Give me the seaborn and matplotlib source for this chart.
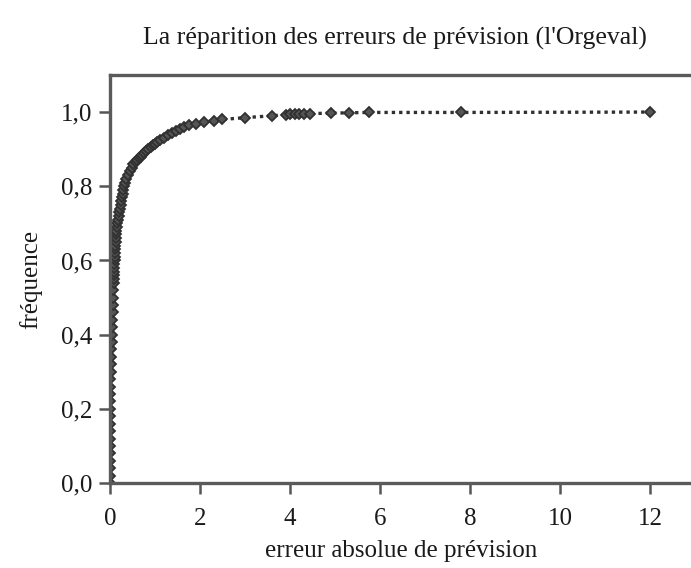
import matplotlib
matplotlib.use("Agg")
import matplotlib.pyplot as plt
import seaborn as sns
import pandas as pd

erreur = [0.00, 0.00, 0.00, 0.00, 0.00, 0.00, 0.00, 0.00, 0.00, 0.00, 0.00, 0.00, 0.00, 0.00,
          0.01, 0.02, 0.02, 0.03, 0.03, 0.04, 0.04, 0.05, 0.05, 0.06, 0.06, 0.07, 0.07, 0.08,
          0.08, 0.085, 0.09, 0.09, 0.095, 0.10, 0.105, 0.11, 0.115, 0.12, 0.125, 0.13, 0.135, 0.14,
          0.15, 0.16, 0.175, 0.19, 0.205, 0.22, 0.235, 0.25, 0.265, 0.28, 0.295, 0.31, 0.335, 0.36,
          0.40, 0.44, 0.48, 0.52, 0.57, 0.60, 0.64, 0.68, 0.72, 0.76, 0.80, 0.85, 0.90, 0.95,
          1.00, 1.05, 1.12, 1.20, 1.29, 1.38, 1.46, 1.55, 1.65, 1.76, 1.92, 2.09, 2.30, 2.49,
          3.00, 3.60, 3.90, 4.00, 4.10, 4.20, 4.30, 4.45, 4.90, 5.30, 5.75, 7.80, 12.00]
frequence = [0.00, 0.02, 0.04, 0.06, 0.08, 0.10, 0.12, 0.14, 0.16, 0.18, 0.20, 0.22, 0.24, 0.26,
             0.28, 0.30, 0.32, 0.34, 0.36, 0.38, 0.40, 0.42, 0.44, 0.46, 0.48, 0.50, 0.52, 0.54,
             0.55, 0.56, 0.57, 0.58, 0.59, 0.60, 0.61, 0.62, 0.63, 0.64, 0.65, 0.66, 0.67, 0.68,
             0.69, 0.70, 0.71, 0.72, 0.73, 0.74, 0.75, 0.76, 0.77, 0.78, 0.79, 0.80, 0.81, 0.82,
             0.83, 0.84, 0.85, 0.86, 0.865, 0.87, 0.875, 0.88, 0.885, 0.89, 0.895, 0.90, 0.905, 0.91,
             0.915, 0.92, 0.925, 0.93, 0.937, 0.943, 0.949, 0.955, 0.960, 0.965, 0.969, 0.973, 0.977, 0.98,
             0.985, 0.99, 0.993, 0.994, 0.994, 0.995, 0.995, 0.996, 0.997, 0.998, 0.999, 0.999, 1.00]

x_ticks = [0, 2, 4, 6, 8, 10, 12]
y_ticks = [0.0, 0.2, 0.4, 0.6, 0.8, 1.0]
y_tick_labels = ["0,0", "0,2", "0,4", "0,6", "0,8", "1,0"]

df = pd.DataFrame({"erreur": erreur, "frequence": frequence})

sns.set_style("ticks")
plt.rcParams["font.family"] = ["Liberation Serif", "DejaVu Serif"]

ink = "#303030"
fig = plt.figure(figsize=(6.91, 5.68), dpi=100)
ax = fig.add_axes([0.1592, 0.1496, 0.8408, 0.7184])

sns.lineplot(data=df, x="erreur", y="frequence", estimator=None, sort=False,
             color=ink, linestyle=(0, (1, 1.2)), linewidth=2.4,
             marker="D", markersize=5.5, markeredgecolor=ink, markerfacecolor="#555555",
             markeredgewidth=1.3, ax=ax)

ax.set_xlim(0, 12.91)
ax.set_ylim(0, 1.10)
ax.set_xticks(x_ticks)
ax.set_xticklabels([str(t) for t in x_ticks])
ax.set_yticks(y_ticks)
ax.set_yticklabels(y_tick_labels)
ax.tick_params(direction="out", length=8, width=1.8, color="#555555",
               labelsize=18, labelcolor="#1a1a1a")
ax.tick_params(axis="y", pad=5)
ax.tick_params(axis="x", pad=10)
ax.set_xlabel("")
ax.set_ylabel("")
for side in ["left", "bottom", "top"]:
    ax.spines[side].set_visible(True)
    ax.spines[side].set_linewidth(2.4)
    ax.spines[side].set_color("#5a5a5a")
ax.spines["right"].set_visible(False)

fig.text(0.572, 0.933, "La réparition des erreurs de prévision (l'Orgeval)",
         ha="center", va="center", fontsize=18.5, color="#1a1a1a")
fig.text(0.58, 0.03, "erreur absolue de prévision",
         ha="center", va="center", fontsize=18, color="#1a1a1a")
fig.text(0.045, 0.508, "fréquence", rotation=90,
         ha="center", va="center", fontsize=18, color="#1a1a1a")

fig.savefig("out.png", dpi=100)
